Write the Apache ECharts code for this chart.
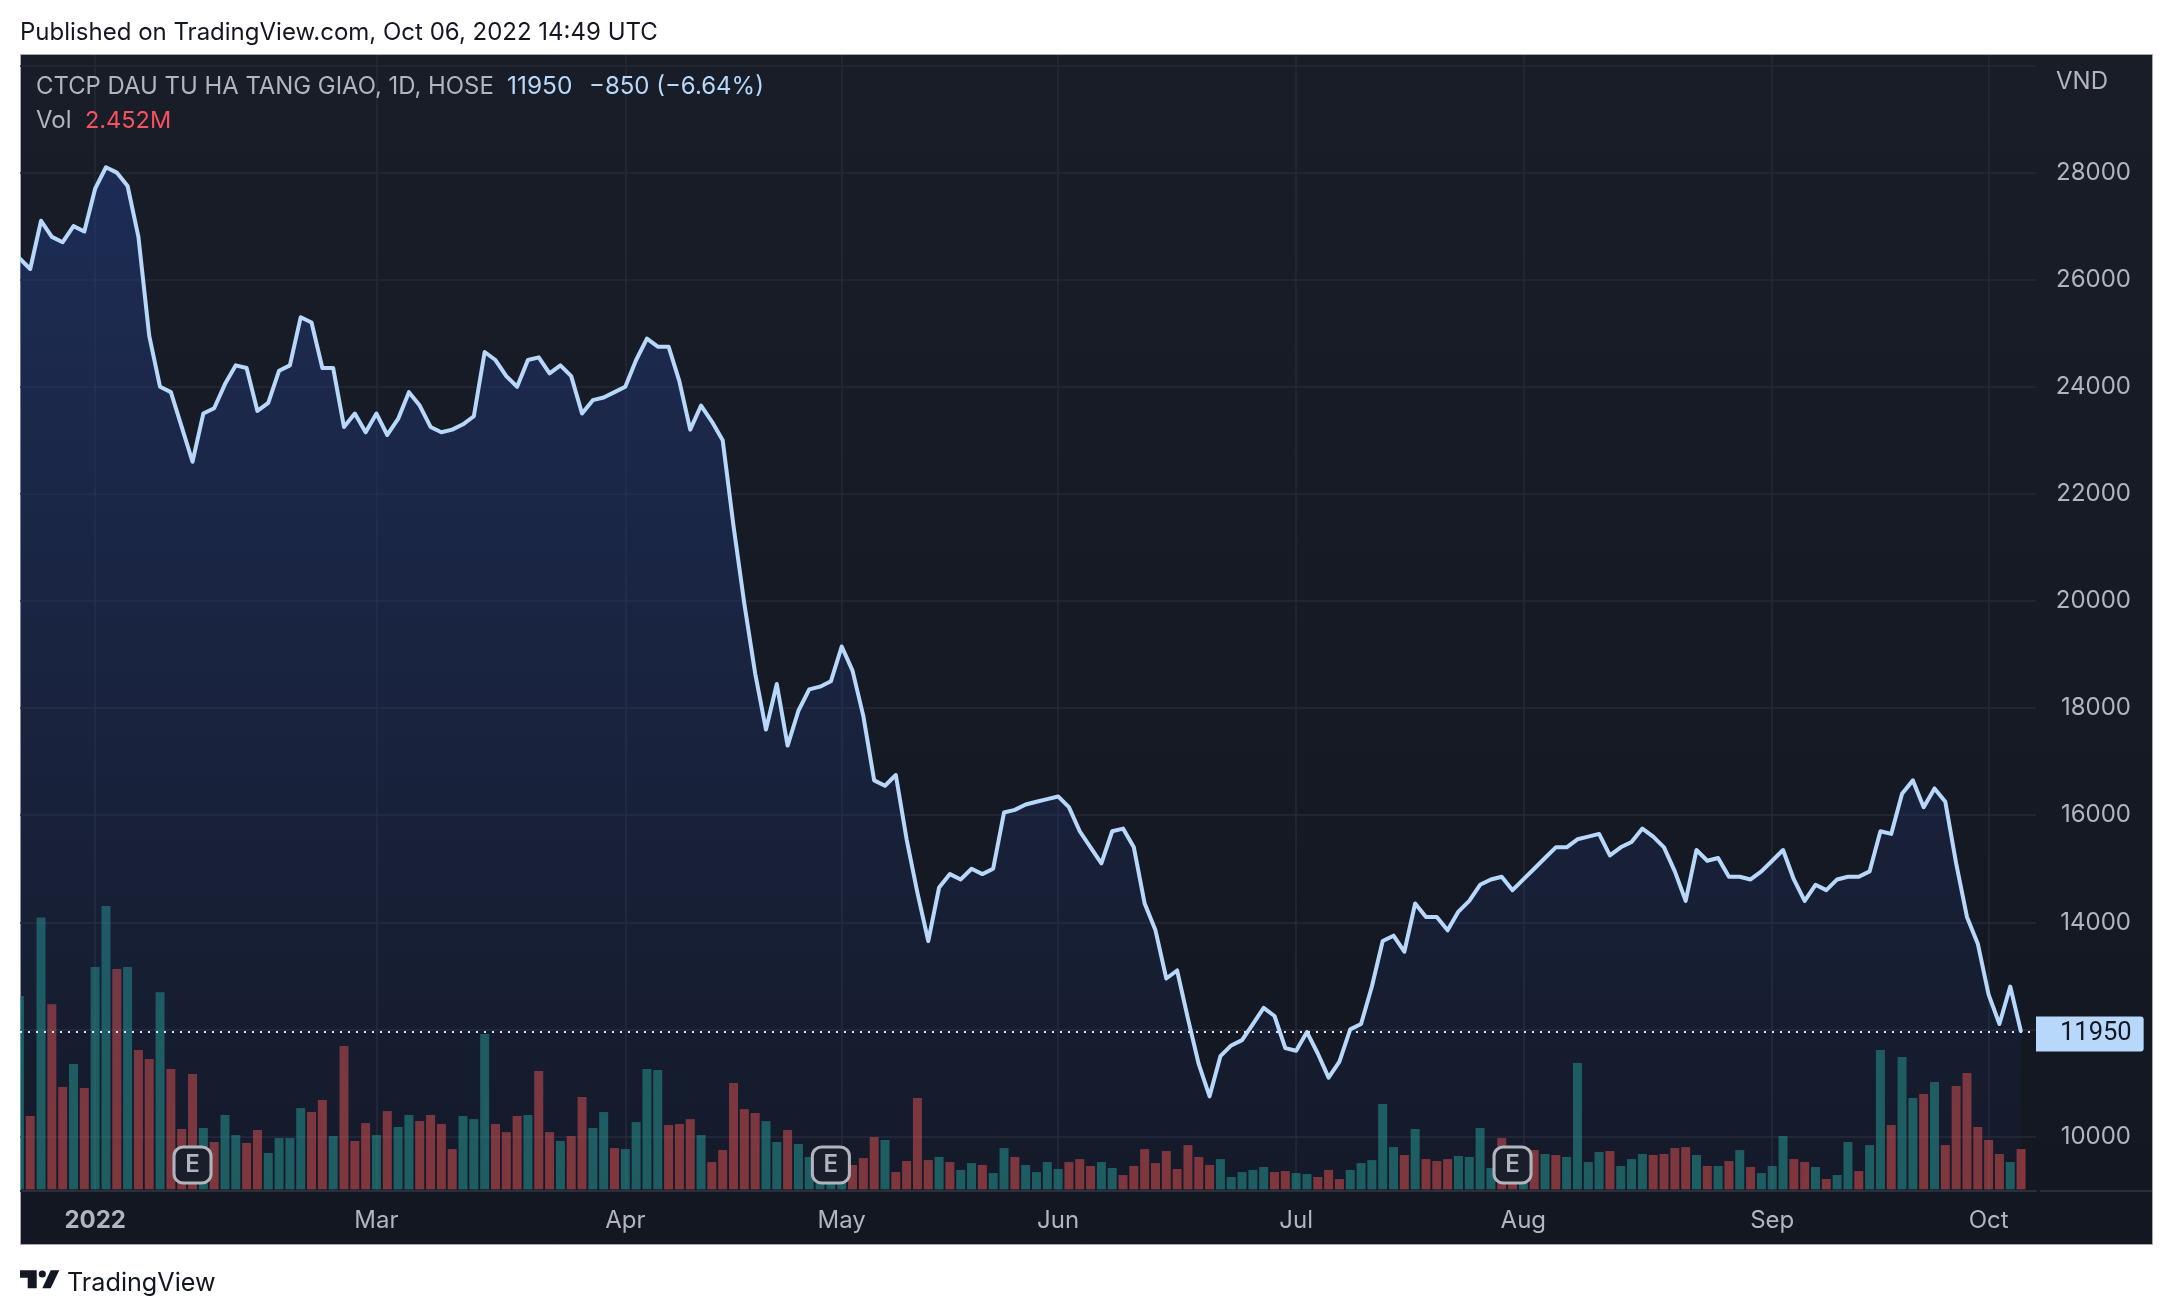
<!DOCTYPE html>
<html><head><meta charset="utf-8">
<style>html,body{margin:0;padding:0;background:#fff}#c{width:2172px;height:1316px}</style>
<script src="https://cdn.jsdelivr.net/npm/echarts@6/dist/echarts.min.js"></script>
</head><body><div id="c"></div>
<script>
// Daily close, VND
const closes = [
26400,26200,27100,26800,26700,27000,26900,27700,28100,28000,
27750,26800,24950,24000,23900,23250,22600,23500,23600,24050,
24400,24350,23550,23700,24300,24400,25300,25200,24350,24350,
23250,23500,23150,23500,23100,23400,23900,23650,23250,23150,
23200,23300,23450,24650,24500,24200,24000,24500,24550,24250,
24400,24200,23500,23750,23800,23900,24000,24500,24900,24750,
24750,24100,23200,23650,23350,23000,21400,19950,18650,17600,
18450,17300,17950,18350,18400,18500,19150,18700,17850,16650,
16550,16750,15550,14550,13650,14650,14900,14800,15000,14900,
15000,16050,16100,16200,16250,16300,16350,16150,15700,15400,
15100,15700,15750,15400,14350,13850,12950,13100,12200,11350,
10750,11500,11700,11800,12100,12400,12250,11650,11600,11950,
11550,11100,11400,12000,12100,12800,13650,13750,13450,14350,
14100,14100,13850,14200,14400,14700,14800,14850,14600,14800,
15000,15200,15400,15400,15550,15600,15650,15250,15400,15500,
15750,15600,15400,14950,14400,15350,15150,15200,14850,14850,
14800,14950,15150,15350,14800,14400,14700,14600,14800,14850,
14850,14950,15700,15650,16400,16650,16150,16500,16250,15100,
14100,13600,12650,12100,12800,11950];
// Daily volume, millions of shares
const volumes = [
11.75,4.46,16.53,11.26,6.22,7.62,6.16,13.51,17.22,13.39,
13.51,8.47,7.92,11.99,7.31,3.67,7.01,3.73,2.88,4.52,
3.30,2.82,3.61,2.21,3.12,3.12,4.94,4.70,5.43,3.24,
8.71,2.94,4.03,3.30,4.76,3.79,4.52,4.15,4.52,3.97,
2.45,4.46,4.27,9.44,3.97,3.48,4.46,4.52,7.19,3.48,
2.94,3.24,5.61,3.73,4.70,2.51,2.45,4.09,7.31,7.25,
3.91,3.97,4.27,3.30,1.66,2.39,6.46,4.88,4.64,4.15,
2.88,3.61,2.76,1.97,1.42,1.42,1.42,1.48,1.90,3.18,
3.00,1.05,1.72,5.55,1.78,1.97,1.66,1.18,1.60,1.48,
0.99,2.51,1.97,1.48,1.05,1.66,1.24,1.66,1.84,1.42,
1.66,1.30,0.87,1.42,2.45,1.60,2.33,1.24,2.69,1.97,
1.48,1.84,0.75,1.05,1.18,1.36,1.05,1.11,0.99,0.93,
0.75,1.18,0.63,1.18,1.60,1.78,5.19,2.57,2.09,3.67,
1.84,1.72,1.84,2.03,1.97,3.73,1.30,3.12,1.22,1.11,
2.39,2.15,2.09,1.97,7.68,1.66,2.27,2.33,1.42,1.84,
2.15,2.09,2.15,2.51,2.57,2.09,1.42,1.42,1.72,2.39,
1.36,0.99,1.42,3.24,1.84,1.66,1.36,0.63,0.87,2.88,
1.11,2.69,8.47,3.91,8.04,5.55,5.79,6.52,2.69,6.28,
7.07,3.79,3.00,2.15,1.66,2.452];
// Volume bar colour class per session: g = up, r = down
const volumeDirs = (
"g r g r r g r g g r g r r g r r r g r g g r r g g g g r r g r r r g r g g r r r r g g g r r r g r r g r r g g r g g g g r r r g r r "+
"r r r g g r g g g g g r r r g r r r r g r g g r g g r g g g g r r r g g r r r r r r r r r g g g g g r r g g r r r g g g g g r g r r "+
"r g g g g r r g r g r g g g g r g g g r r r r g r g r g r g g g r r g r g g r g g r g g r g r r r r r r g r").trim().split(/\s+/);
// Price axis ticks and the labels that are shown
const priceTicks = [10000,12000,14000,16000,18000,20000,22000,24000,26000,28000,30000];
const priceLabels = [10000,14000,16000,18000,20000,22000,24000,26000,28000];
// Time axis: session index of each month mark
const monthIdx = [7,33,56,76,96,118,139,162,182];
const monthNames = ["2022","Mar","Apr","May","Jun","Jul","Aug","Sep","Oct"];
// Earnings events: session index
const earningsIdx = [16,75,138];
const lastPrice = 11950;

const font = 'Inter, "Noto Sans", sans-serif';
const axisText = '#b2b5be', gridCol = '#262a36', lineCol = '#b7d8fb';
const red = 'rgba(249,85,78,0.5)', teal = 'rgba(39,169,156,0.5)';
const ink = '#131722';

const chart = echarts.init(document.getElementById('c'), null, {renderer:'canvas'});
const txt = (x,y,t,fill,size) => ({type:'text',z:100,x,y,style:{text:t,fill,font:`${size}px ${font}`,textVerticalAlign:'middle'}});
chart.setOption({
  animation:false,
  backgroundColor:'#fff',
  grid:{left:20,top:55,width:2016,height:1136,containLabel:false},
  xAxis:{type:'value',min:0.055,max:186.38,
    axisLine:{show:true,onZero:false,lineStyle:{color:'#2a2e39',width:2}},
    axisTick:{show:false,customValues:monthIdx},
    splitLine:{show:true,lineStyle:{color:gridCol,width:1.5}},
    axisLabel:{show:true,customValues:monthIdx,margin:18,hideOverlap:false,showMinLabel:true,showMaxLabel:true,
      fontFamily:font,fontSize:24,color:axisText,
      formatter:v=>{const n=monthNames[monthIdx.indexOf(v)];return n==='2022'?`{b|${n}}`:n;},
      rich:{b:{fontWeight:'bold',fontSize:24,fontFamily:font,color:axisText}}}},
  yAxis:[
    {type:'value',min:8982,max:30196,position:'right',
      axisLine:{show:false},
      axisTick:{show:false,customValues:priceTicks},
      splitLine:{show:true,lineStyle:{color:gridCol,width:1.5}},
      axisLabel:{show:true,customValues:priceLabels,inside:false,margin:95,align:'right',padding:[7,0,0,0],
        fontFamily:font,fontSize:24,color:axisText,formatter:v=>String(v)}},
    {type:'value',min:-0.1,max:68.96,show:false,splitLine:{show:false}}
  ],
  graphic:{elements:[
    {type:'rect',z:-10,silent:true,shape:{x:20.5,y:54.5,width:2132,height:1190},
      style:{stroke:'#a6a9b3',lineWidth:1,fill:new echarts.graphic.LinearGradient(0,0,0,1,[{offset:0,color:'#191d28'},{offset:1,color:'#131722'}])}},
    {type:'rect',z:90,silent:true,shape:{x:0,y:55,width:20,height:1140},style:{fill:'#fff'}},
    {type:'line',z:-5,shape:{x1:2040,y1:1191,x2:2152,y2:1191},style:{stroke:'#2a2e39',lineWidth:2}},
    txt(20,33,'Published on TradingView.com, Oct 06, 2022 14:49 UTC',ink,24),
    txt(36,87,'CTCP DAU TU HA TANG GIAO, 1D, HOSE',axisText,23.9),
    txt(507,87,'11950',lineCol,24.5),
    txt(589,87,'\u2212850 (\u22126.64%)',lineCol,24),
    txt(36,120.5,'Vol',axisText,24),
    txt(85,120.5,'2.452M','#f7525f',23.5),
    txt(2056,81.5,'VND',axisText,24),
    txt(67,1283,'TradingView',ink,25.2),
    {type:'polygon',z:100,shape:{points:[[20,1270.3],[36.7,1270.3],[36.7,1288.3],[27.7,1288.3],[27.7,1277.7],[20,1277.7]]},style:{fill:ink}},
    {type:'polygon',z:100,shape:{points:[[50.7,1270.3],[59.3,1270.3],[50.7,1288.3],[42.3,1288.3]]},style:{fill:ink}},
    {type:'circle',z:100,shape:{cx:42.3,cy:1274,r:3.6},style:{fill:ink}}
  ]},
  series:[
    {type:'bar',name:'Vol',xAxisIndex:0,yAxisIndex:1,barWidth:9,z:2,
      data:volumes.map((v,i)=>({value:[i,v],itemStyle:{color:volumeDirs[i]==='g'?teal:red}}))},
    {type:'line',name:'Close',xAxisIndex:0,yAxisIndex:0,showSymbol:false,symbol:'none',z:3,
      data:closes.map((v,i)=>[i,v]),
      lineStyle:{color:lineCol,width:4,join:'round'},
      areaStyle:{origin:'start',color:new echarts.graphic.LinearGradient(0,0,0,1,[{offset:0,color:'rgba(32,58,125,0.75)'},{offset:1,color:'rgba(32,58,125,0.10)'}])},
      markLine:{silent:true,symbol:'none',animation:false,z:4,
        lineStyle:{type:[2,6],cap:'butt',color:'#dbe9fa',width:2},
        data:[{yAxis:lastPrice}],
        label:{show:true,position:'end',formatter:String(lastPrice),distance:0,offset:[0,2],
          backgroundColor:lineCol,color:ink,fontFamily:'Roboto, '+font,fontSize:25.5,
          borderRadius:[0,3,3,0],padding:[6,12,3,24],align:'left'}}},
    {type:'scatter',name:'Earnings',xAxisIndex:0,yAxisIndex:1,z:6,symbol:'roundRect',symbolSize:[37,36],
      data:earningsIdx.map(i=>[i,1.48]),
      itemStyle:{color:'#1a1e2b',borderColor:'#b2b5be',borderWidth:3,opacity:1},
      label:{show:true,position:'inside',formatter:'E',color:'#b2b5be',fontFamily:font,fontSize:24,fontWeight:600}}
  ]
});
</script></body></html>
